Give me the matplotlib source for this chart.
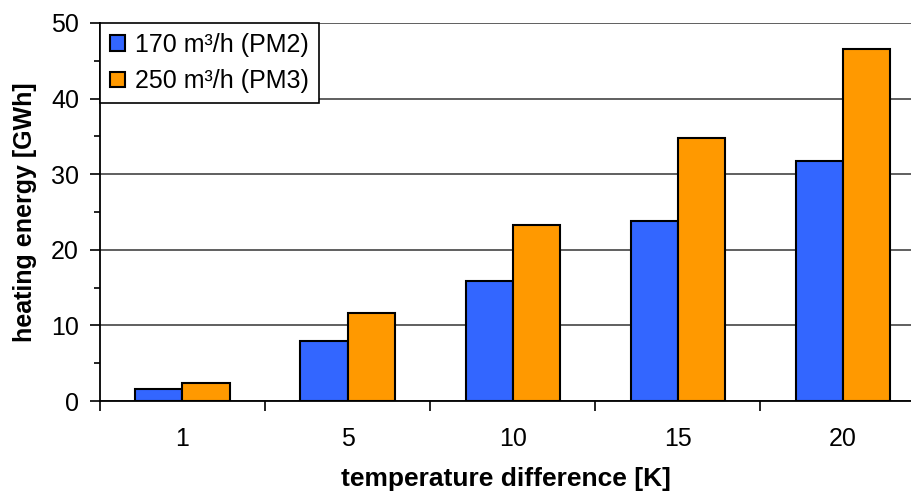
import numpy as np
import matplotlib
matplotlib.use("Agg")
import matplotlib.pyplot as plt
from matplotlib.ticker import MultipleLocator

plt.rcParams["font.family"] = ["Liberation Sans", "DejaVu Sans"]

categories = ["1", "5", "10", "15", "20"]
pm2 = [1.6, 7.9, 15.9, 23.8, 31.7]
pm3 = [2.4, 11.6, 23.3, 34.8, 46.5]
series_labels = ["170 m³/h (PM2)", "250 m³/h (PM3)"]
colors = ["#3366ff", "#ff9900"]

fig = plt.figure(figsize=(9.12, 4.97), dpi=100)
ax = fig.add_axes([0.1096, 0.193, 0.8904, 0.761])

x = np.arange(len(categories))
w = 0.285
ax.bar(x - w / 2, pm2, w, color=colors[0], edgecolor="black", lw=1.5,
       label=series_labels[0], zorder=3)
ax.bar(x + w / 2, pm3, w, color=colors[1], edgecolor="black", lw=1.5,
       label=series_labels[1], zorder=3)

ax.set_ylim(0, 50)
ax.set_xlim(-0.5, 4.42)
ax.yaxis.set_major_locator(MultipleLocator(10))
ax.yaxis.set_minor_locator(MultipleLocator(5))
ax.grid(axis="y", color="#444444", lw=1.2, zorder=0)

ax.set_xticks(x)
ax.set_xticklabels(categories)
ax.set_xticks(np.arange(-0.5, 4.5, 1), minor=True)
ax.tick_params(axis="x", which="major", length=0, pad=19, labelsize=18)
ax.tick_params(axis="x", which="minor", length=7, width=1.2, direction="out")
ax.tick_params(axis="y", which="major", length=7, width=1.2, labelsize=18, pad=8)
ax.tick_params(axis="y", which="minor", length=4, width=1.2)

for s in ["top", "right"]:
    ax.spines[s].set_visible(False)
for s in ["left", "bottom"]:
    ax.spines[s].set_linewidth(1.3)

ax.set_ylabel("heating energy [GWh]", fontsize=18, fontweight="bold", labelpad=10)
ax.set_xlabel("temperature difference [K]", fontsize=19, fontweight="bold", labelpad=11)

leg = ax.legend(loc="upper left", bbox_to_anchor=(0.0, 1.0), fontsize=18,
                frameon=True, fancybox=False, handlelength=0.6, handleheight=0.6,
                handletextpad=0.4, borderpad=0.4, labelspacing=0.5,
                borderaxespad=0.0)
leg.get_frame().set_edgecolor("black")
leg.get_frame().set_linewidth(1.2)
leg.get_frame().set_alpha(1)
leg.set_zorder(5)

fig.savefig("out.png", dpi=100)
